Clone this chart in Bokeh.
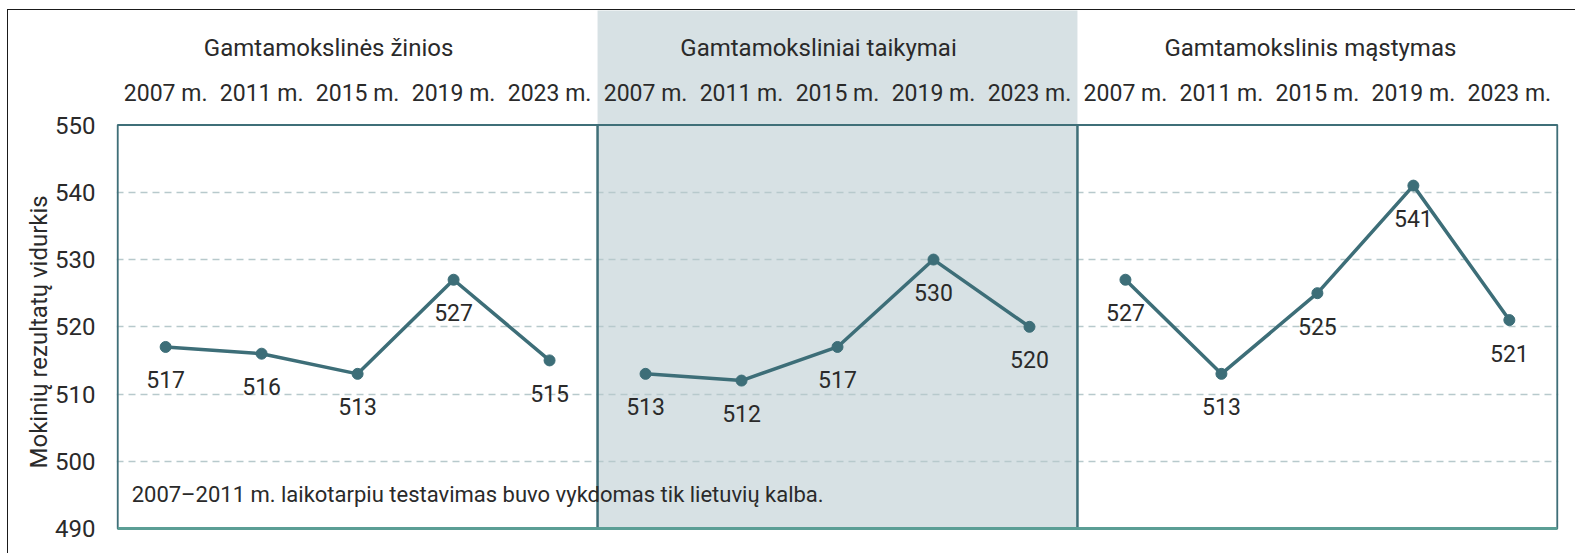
from bokeh.plotting import figure
from bokeh.models import Range1d, FixedTicker, Title, ColumnDataSource
from bokeh.core.properties import value
from bokeh.embed import file_html
from bokeh.resources import INLINE

# ---- data ----
years = ["2007 m.", "2011 m.", "2015 m.", "2019 m.", "2023 m."]
panels = ["Gamtamokslinės žinios", "Gamtamoksliniai taikymai", "Gamtamokslinis mąstymas"]
zinios = [517, 516, 513, 527, 515]
taikymai = [513, 512, 517, 530, 520]
mastymas = [527, 513, 525, 541, 521]
series = [zinios, taikymai, mastymas]
y_ticks = [490, 500, 510, 520, 530, 540, 550]
y_title = "Mokinių rezultatų vidurkis"
note = "2007–2011 m. laikotarpiu testavimas buvo vykdomas tik lietuvių kalba."
shaded_panel = 1

# ---- style ----
FONT = "Roboto"
LINE = "#3d6e78"
TXT = "#2a2a2a"
title_shift = [-29, -19, -7]   # px, header placement

n = len(years)
npan = len(panels)
y_min, y_max = y_ticks[0], y_ticks[-1]

p = figure(width=1568, height=544, output_backend="svg", toolbar_location=None,
           x_range=Range1d(-0.012, npan * n + 0.012),
           y_range=Range1d(y_min - 0.45, y_max + 17.05),
           x_axis_type=None,
           min_border_left=108, min_border_right=18, min_border_top=0, min_border_bottom=23,
           outline_line_color=None, background_fill_color="white", border_fill_color="white")
p.styles = {"margin-left": "7px", "margin-top": "9px",
            "border-top": "1.5px solid #1a1a1a", "border-left": "1.5px solid #1a1a1a"}

# y axis
ax = p.yaxis[0]
ax.ticker = FixedTicker(ticks=y_ticks)
ax.axis_line_color = None
ax.major_tick_line_color = None
ax.minor_tick_line_color = None
ax.major_tick_out = 0
ax.major_tick_in = 0
ax.major_label_standoff = 21
ax.major_label_text_font = FONT
ax.major_label_text_font_size = "24px"
ax.major_label_text_color = TXT

# grid
p.ygrid.ticker = FixedTicker(ticks=y_ticks[1:-1])
p.ygrid.grid_line_color = "#b7c9cc"
p.ygrid.grid_line_dash = "7 5"
p.ygrid.grid_line_width = 1.6

# shaded middle panel
p.quad(left=[shaded_panel * n], right=[(shaded_panel + 1) * n], bottom=[y_min], top=[y_max + 100],
       fill_color="#d7e1e4", line_color=None, level="image")

# panel borders
p.quad(left=[i * n for i in range(npan)], right=[(i + 1) * n for i in range(npan)],
       bottom=[y_min] * npan, top=[y_max] * npan,
       fill_color=None, line_color="#3f6f78", line_width=2)
p.line(x=[0, npan * n], y=[y_min, y_min], line_color="#5b9e95", line_width=3)

# headers
xs_all = [i * n + j + 0.5 for i in range(npan) for j in range(n)]
p.text(x=xs_all, y=[y_max] * len(xs_all), text=years * npan, y_offset=-32,
       text_align="center", text_baseline="middle", text_font=value(FONT),
       text_font_size="23px", text_color=TXT)
tsrc = ColumnDataSource(dict(x=[i * n + n / 2 for i in range(npan)], y=[y_max] * npan,
                             text=panels, dx=title_shift))
p.text(x="x", y="y", text="text", x_offset="dx", y_offset=-77, source=tsrc,
       text_align="center", text_baseline="middle", text_font=value(FONT),
       text_font_size="24px", text_color=TXT)

# data
for i, vals in enumerate(series):
    xs = [i * n + j + 0.5 for j in range(n)]
    p.line(x=xs, y=vals, line_color=LINE, line_width=3.5)
    p.scatter(x=xs, y=vals, size=11, color=LINE)
    p.text(x=xs, y=vals, text=[str(v) for v in vals], y_offset=33,
           text_align="center", text_baseline="middle", text_font=value(FONT),
           text_font_size="23px", text_color=TXT)

# note
p.text(x=[0], y=[y_min + 5], text=[note], x_offset=14, text_align="left",
       text_baseline="middle", text_font=value(FONT), text_font_size="22px", text_color=TXT)

# y-axis title
t = Title(text=y_title, align="left", offset=63, standoff=0,
          text_font=FONT, text_font_size="24px", text_font_style="normal", text_color=TXT)
p.add_layout(t, "left")

open("out.html", "w").write(file_html(p, INLINE))
